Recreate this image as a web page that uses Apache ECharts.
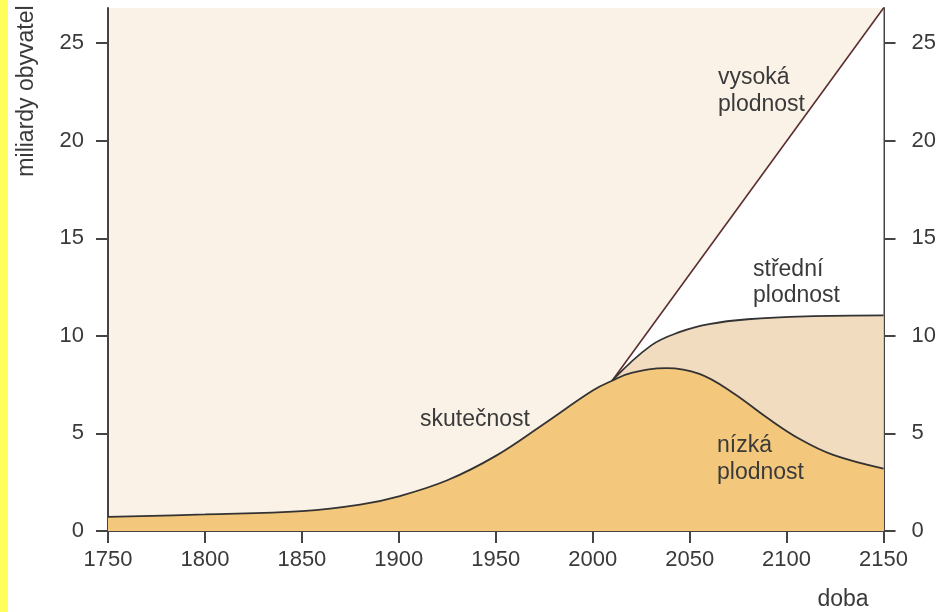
<!DOCTYPE html>
<html>
<head>
<meta charset="utf-8">
<script src="https://cdn.jsdelivr.net/npm/echarts@6/dist/echarts.min.js"></script>
<style>
  html, body { margin: 0; padding: 0; background: #fff; }
  #chart { width: 939px; height: 612px; }
</style>
</head>
<body>
<div id="chart"></div>
<script>
// skutečnost (actual) + nízká plodnost (low) as one curve
const actualYears = [1750, 1800, 1850, 1880, 1900, 1925, 1950, 1975, 2000, 2010];
const actualValues = [0.72, 0.85, 1.02, 1.35, 1.78, 2.6, 3.85, 5.5, 7.2, 7.7];
const lowYears = [2020, 2038, 2055, 2072, 2090, 2107, 2124, 2150];
const lowValues = [8.1, 8.35, 8.05, 7.1, 5.8, 4.7, 3.9, 3.2];
const midYears = [2010, 2030, 2045, 2060, 2080, 2110, 2150];
const midValues = [7.7, 9.5, 10.2, 10.6, 10.85, 11.0, 11.05];
const highYears = [2010, 2150];
const highValues = [7.7, 26.8];
const yTicks = [0, 5, 10, 15, 20, 25];
const xTicks = [1750, 1800, 1850, 1900, 1950, 2000, 2050, 2100, 2150];

const pairs = (xs, ys) => xs.map((x, i) => [x, ys[i]]);
const lowData = pairs(actualYears, actualValues).concat(pairs(lowYears, lowValues));

const font = '"Liberation Sans", Arial, sans-serif';
const textColor = '#3a3a3a';

const yAxisBase = {
  type: 'value',
  min: 0,
  max: 26.8,
  interval: 5,
  splitLine: { show: false },
  axisLine: { show: true, lineStyle: { color: '#444', width: 2 } },
  axisTick: { show: true, length: 12, lineStyle: { color: '#444', width: 2 } },
  axisLabel: {
    color: textColor, fontSize: 22, fontFamily: font, margin: 24,
    showMaxLabel: false,
    formatter: (v) => (yTicks.indexOf(v) >= 0 ? String(v) : ''),
  },
};

const label = (text, x, y, extra) => ({
  type: 'text', x, y, z: 10,
  style: Object.assign({ text, fontSize: 23, fontFamily: font, fill: textColor, verticalAlign: 'middle' }, extra || {}),
});

const chart = echarts.init(document.getElementById('chart'));
chart.setOption({
  animation: false,
  backgroundColor: '#ffffff',
  grid: {
    left: 108, right: 55, top: 8, bottom: 81,
    show: true, backgroundColor: '#fbf2e7', borderWidth: 0,
  },
  xAxis: {
    type: 'value',
    min: 1750,
    max: 2150,
    interval: 50,
    splitLine: { show: false },
    axisLine: { show: true, lineStyle: { color: '#444', width: 2 } },
    axisTick: { show: true, length: 12, lineStyle: { color: '#444', width: 2 } },
    axisLabel: {
      color: textColor, fontSize: 22, fontFamily: font, margin: 18,
      formatter: (v) => (xTicks.indexOf(v) >= 0 ? String(v) : ''),
    },
  },
  yAxis: [
    Object.assign({}, yAxisBase, { position: 'left' }),
    Object.assign({}, yAxisBase, { position: 'right', axisLabel: Object.assign({}, yAxisBase.axisLabel, { margin: 28 }) }),
  ],
  series: [
    {
      name: 'vysoká plodnost',
      type: 'line',
      data: pairs(highYears, highValues),
      showSymbol: false,
      lineStyle: { color: '#5a2e2e', width: 1.6 },
      areaStyle: { color: '#ffffff', opacity: 1, origin: 'start' },
      z: 2,
    },
    {
      name: 'střední plodnost',
      type: 'line',
      data: pairs(midYears, midValues),
      smooth: 0.4,
      showSymbol: false,
      lineStyle: { color: '#333', width: 1.8 },
      areaStyle: { color: '#f2dcc0', opacity: 1, origin: 'start' },
      z: 3,
    },
    {
      name: 'nízká plodnost',
      type: 'line',
      data: lowData,
      smooth: 0.4,
      showSymbol: false,
      lineStyle: { color: '#333', width: 1.8 },
      areaStyle: { color: '#f4c87c', opacity: 1, origin: 'start' },
      z: 4,
    },
  ],
  graphic: [
    { type: 'rect', left: 0, top: 0, shape: { width: 8, height: 612 }, style: { fill: '#ffff5c' }, silent: true },
    {
      type: 'text', x: 27, y: 91, rotation: Math.PI / 2,
      style: { text: 'miliardy obyvatel', fontSize: 23, fontFamily: font, fill: textColor, align: 'center', verticalAlign: 'middle' },
    },
    label('doba', 843, 600, { align: 'center' }),
    label('vysoká', 718, 78),
    label('plodnost', 718, 105),
    label('střední', 753, 270),
    label('plodnost', 753, 296),
    label('skutečnost', 420, 420),
    label('nízká', 717, 446),
    label('plodnost', 717, 473),
  ],
});
</script>
</body>
</html>
